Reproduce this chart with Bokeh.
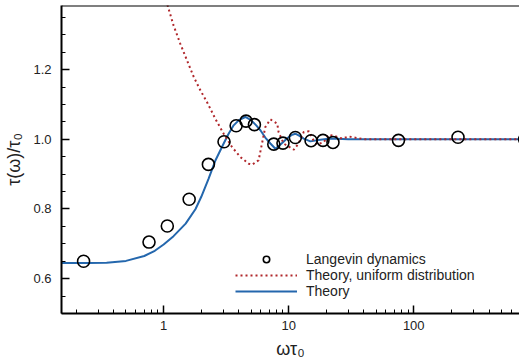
import math
from bokeh.plotting import figure
from bokeh.models import (FixedTicker, SingleIntervalTicker, Legend, LegendItem, Range1d,
                          PrintfTickFormatter, Span)
from bokeh.embed import file_html
from bokeh.resources import INLINE

# Langevin dynamics simulation points
lang_x = [0.229, 0.764, 1.07, 1.6, 2.28, 3.04, 3.8, 4.56, 5.32, 7.6, 9.0, 11.3, 15.1, 18.8, 22.6, 75.5, 226, 770]
lang_y = [0.650, 0.705, 0.751, 0.828, 0.928, 0.993, 1.039, 1.052, 1.042, 0.986, 0.989, 1.005, 0.996, 0.997, 0.991, 0.997, 1.006, 1.0]

# Theory (blue)
th_x = [0.15, 0.25, 0.35, 0.5, 0.7, 0.85, 1.0, 1.2, 1.5, 1.8, 2.0, 2.29, 2.6, 3.02, 3.3, 3.63, 4.0, 4.5,
        5.0, 5.5, 5.94, 6.5, 7.14, 7.83, 8.6, 9.7, 10.5, 11.3, 12.2, 13.2, 14.9, 17.9, 21.6, 30, 100, 300, 800]
th_y = [0.645, 0.645, 0.646, 0.651, 0.665, 0.680, 0.698, 0.722, 0.758, 0.800, 0.835, 0.887, 0.94, 0.988, 1.015, 1.040, 1.055, 1.064,
        1.055, 1.040, 1.026, 1.005, 0.988, 0.973, 0.985, 1.002, 1.012, 1.016, 1.010, 1.002, 0.994, 0.999, 1.002, 1.0, 1.0, 1.0, 1.0]

# Theory, uniform distribution (red dotted)
tu_x = [1.05, 1.084, 1.2, 1.36, 1.54, 1.74, 1.97, 2.22, 2.59, 3.02, 3.52, 4.11, 4.79, 5.1, 5.75, 6.12, 6.5, 7.14,
        8.1, 8.3, 9.1, 11.0, 12.0, 13.2, 14.5, 15.8, 16.9, 19.1, 20.9, 23.6, 26.8, 30.3, 40, 100, 300, 800]
tu_y = [1.40, 1.38, 1.327, 1.274, 1.226, 1.179, 1.14, 1.107, 1.059, 1.016, 0.978, 0.949, 0.930, 0.927, 0.94, 0.988, 1.035, 1.057,
        1.045, 1.021, 0.988, 0.970, 0.988, 1.021, 1.023, 0.997, 0.985, 0.992, 1.013, 1.009, 1.002, 1.008, 1.0, 1.0, 1.0, 1.0]

x_major = [1, 10, 100]
x_labels = {1: "1", 10: "10", 100: "100"}
x_minor = [m * d for d in (0.1, 1, 10, 100) for m in range(2, 10)]

FONT = "Liberation Sans"
BLUE = "#2467ad"
RED = "#b0262a"
Y_TOP = 1.384

p = figure(width=519, height=364, output_backend="svg", toolbar_location=None,
           x_axis_type="log", x_range=Range1d(0.1525, 701), y_range=Range1d(0.5, Y_TOP),
           min_border_left=61, min_border_right=0, min_border_top=5, min_border_bottom=51)
p.grid.visible = False
p.outline_line_color = None
p.background_fill_color = "white"
p.border_fill_color = "white"

# top spine
p.add_layout(Span(location=Y_TOP, dimension="width", line_color="black", line_width=2))

r_th = p.line(th_x, th_y, line_color=BLUE, line_width=2)
r_tu = p.line(tu_x, tu_y, line_color=RED, line_width=2, line_dash="2 3")
r_lang = p.scatter(lang_x, lang_y, marker="circle", size=12, fill_color=None,
                   line_color="black", line_width=1.6)

for ax in (p.xaxis[0], p.yaxis[0]):
    ax.axis_line_width = 2
    ax.axis_line_color = "black"
    ax.major_tick_in = 8
    ax.major_tick_out = 0
    ax.minor_tick_in = 4
    ax.minor_tick_out = 0
    ax.major_tick_line_width = 1.5
    ax.minor_tick_line_width = 1
    ax.major_label_text_font = FONT
    ax.major_label_text_font_size = "13px"
    ax.major_label_text_color = "#222222"
    ax.axis_label_text_font = FONT
    ax.axis_label_text_font_size = "18px"
    ax.axis_label_text_font_style = "normal"
    ax.axis_label_text_color = "#222222"

p.xaxis[0].ticker = FixedTicker(ticks=x_major, minor_ticks=x_minor)
p.xaxis[0].major_label_overrides = x_labels
p.xaxis[0].major_label_standoff = 7
p.xaxis[0].axis_label = "ωτ₀"
p.xaxis[0].axis_label_standoff = 6

p.yaxis[0].ticker = SingleIntervalTicker(interval=0.2, num_minor_ticks=4)
p.yaxis[0].formatter = PrintfTickFormatter(format="%.1f")
p.yaxis[0].major_label_standoff = 10
p.yaxis[0].axis_label = "τ(ω)/τ₀"
p.yaxis[0].axis_label_standoff = 6

legend = Legend(items=[
    LegendItem(label="Langevin dynamics", renderers=[r_lang]),
    LegendItem(label="Theory, uniform distribution", renderers=[r_tu]),
    LegendItem(label="Theory", renderers=[r_th]),
], location=(174, 14), padding=0, margin=0, spacing=0,
    glyph_width=62, glyph_height=16, label_height=16, label_standoff=9,
    label_text_font=FONT, label_text_font_size="14px", label_text_color="#222222",
    border_line_color=None, background_fill_alpha=0)
p.add_layout(legend)

open("out.html", "w").write(file_html(p, INLINE))
